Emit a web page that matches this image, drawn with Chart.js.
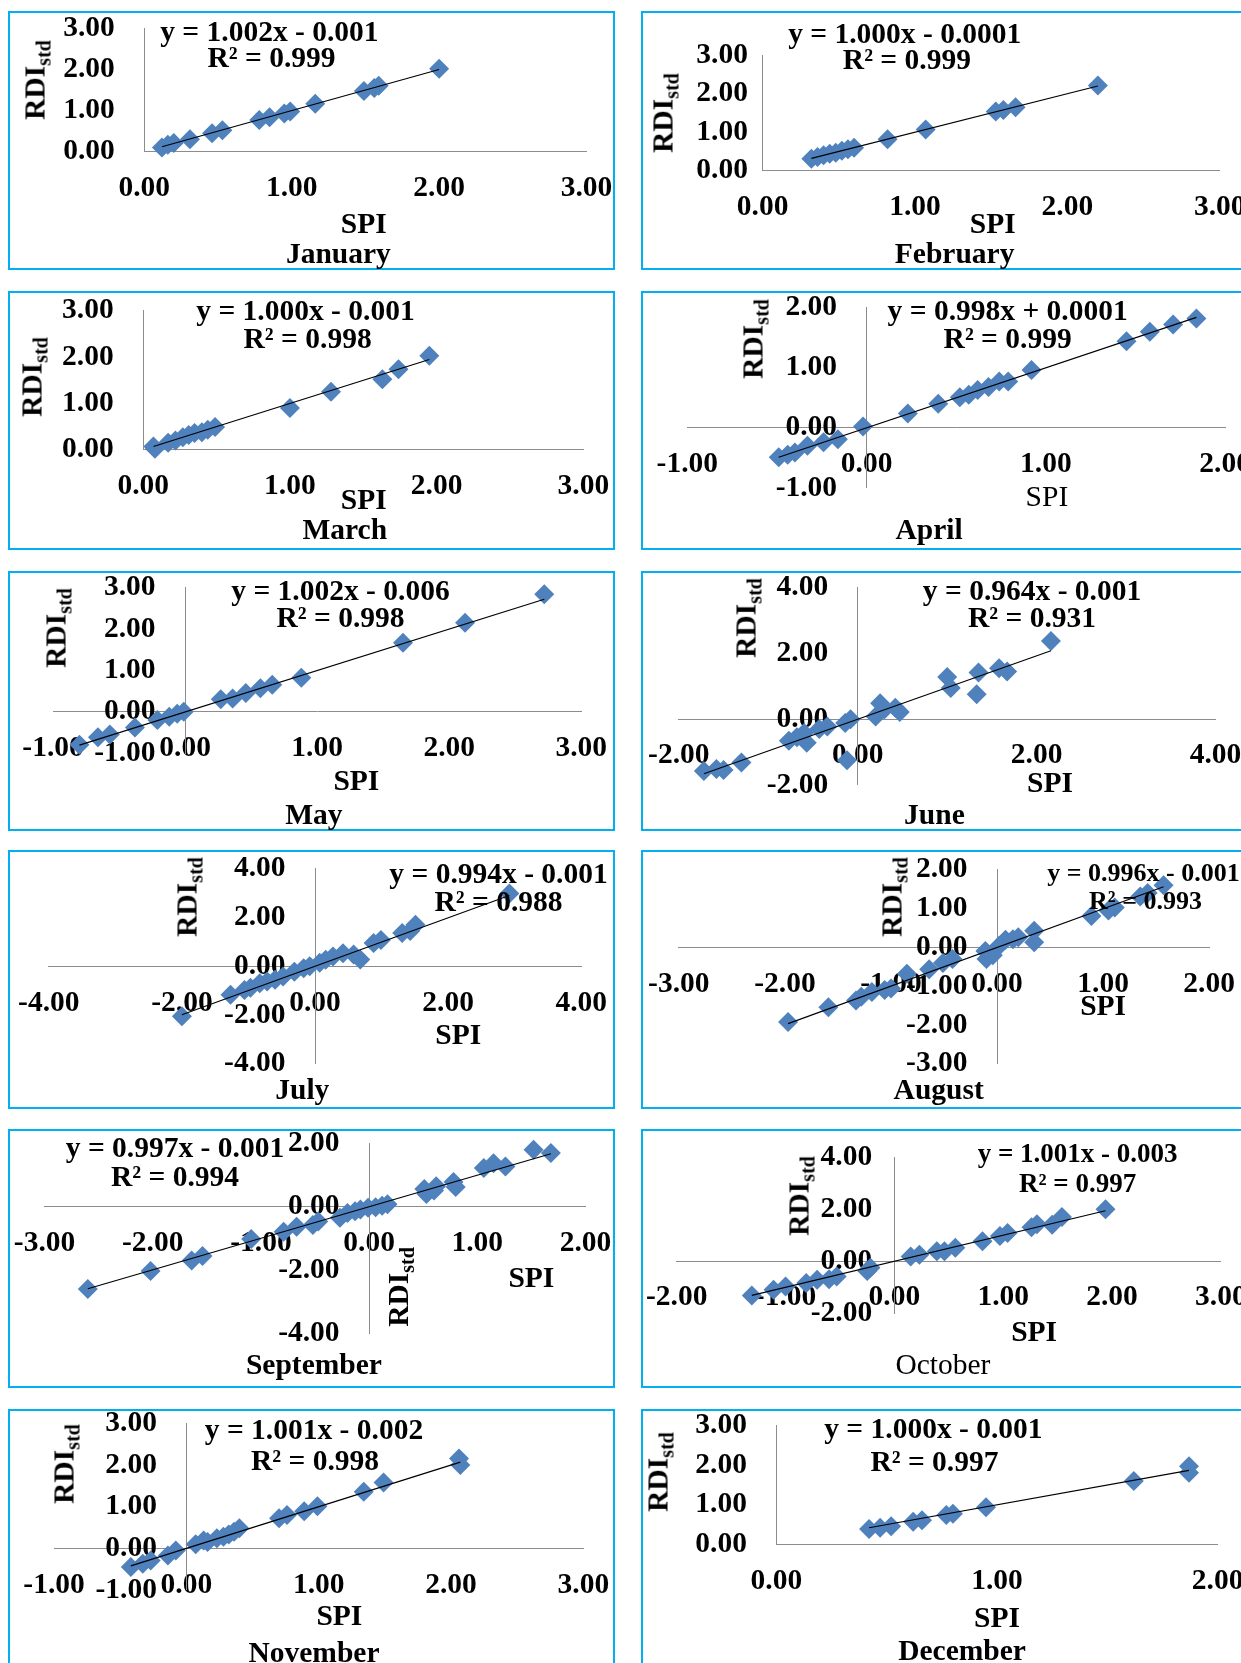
<!DOCTYPE html>
<html>
<head>
<meta charset="utf-8">
<title>RDIstd vs SPI by month</title>
<script src="https://cdn.jsdelivr.net/npm/chart.js@4.4.1/dist/chart.umd.min.js"></script>
<style>
  html, body { margin: 0; padding: 0; background: #fff; }
  body { width: 1241px; height: 1663px; position: relative; overflow: hidden;
         font-family: "Liberation Serif", "Times New Roman", serif; }
  .panel { position: absolute; box-sizing: border-box; border: 2px solid #00b0f0; }
  canvas { position: absolute; }
  .lbl { position: absolute; transform: translate(-50%, -50%); white-space: nowrap;
         font-weight: bold; font-size: 29.5px; line-height: 1; color: #000; }
  .rdi { transform: translate(-50%, -50%) rotate(-90deg); }
  .rdi sub { font-size: 20px; vertical-align: -6px; }
  .reg { font-weight: normal; }
</style>
</head>
<body>
<script>
  // ---- data ----
  const months = ["January", "February", "March", "April", "May", "June",
    "July", "August", "September", "October", "November", "December"];

  const spiJan = [0.12, 0.16, 0.20, 0.31, 0.46, 0.53, 0.78, 0.85, 0.95, 0.99, 1.16, 1.49, 1.56, 1.59, 2.00];
  const rdiJan = [0.10, 0.17, 0.21, 0.30, 0.45, 0.52, 0.77, 0.84, 0.93, 0.98, 1.17, 1.48, 1.55, 1.61, 2.02];
  const spiFeb = [0.32, 0.36, 0.40, 0.44, 0.48, 0.52, 0.56, 0.60, 0.82, 1.07, 1.53, 1.58, 1.66, 2.20];
  const rdiFeb = [0.31, 0.36, 0.40, 0.44, 0.47, 0.52, 0.56, 0.60, 0.82, 1.07, 1.54, 1.58, 1.65, 2.21];
  const spiMar = [0.07, 0.08, 0.17, 0.22, 0.27, 0.31, 0.35, 0.40, 0.44, 0.49, 1.00, 1.28, 1.63, 1.74, 1.95];
  const rdiMar = [0.07, 0.02, 0.15, 0.20, 0.27, 0.32, 0.36, 0.38, 0.43, 0.49, 0.90, 1.25, 1.52, 1.74, 2.03];
  const spiApr = [-0.49, -0.44, -0.40, -0.33, -0.24, -0.16, -0.02, 0.23, 0.40, 0.52, 0.57, 0.62, 0.68, 0.74, 0.79, 0.92, 1.45, 1.58, 1.71, 1.84];
  const rdiApr = [-0.49, -0.45, -0.41, -0.30, -0.24, -0.19, 0.02, 0.24, 0.40, 0.51, 0.55, 0.63, 0.68, 0.77, 0.77, 0.96, 1.44, 1.60, 1.72, 1.82];
  const spiMay = [-0.80, -0.66, -0.57, -0.38, -0.21, -0.12, -0.06, -0.01, 0.27, 0.36, 0.46, 0.57, 0.66, 0.88, 1.65, 2.12, 2.72];
  const rdiMay = [-0.80, -0.62, -0.55, -0.38, -0.20, -0.12, -0.05, 0.00, 0.30, 0.32, 0.45, 0.57, 0.65, 0.82, 1.67, 2.15, 2.84];
  const spiJun = [-1.72, -1.58, -1.50, -1.30, -0.77, -0.68, -0.60, -0.57, -0.43, -0.34, -0.14, -0.08, -0.12, 0.20, 0.25, 0.30, 0.42, 0.47, 1.00, 1.04, 1.33, 1.35, 1.58, 1.67, 2.16];
  const rdiJun = [-1.58, -1.52, -1.55, -1.32, -0.66, -0.55, -0.42, -0.72, -0.30, -0.22, -0.12, 0.00, -1.25, 0.08, 0.48, 0.30, 0.35, 0.22, 1.28, 0.95, 0.76, 1.42, 1.55, 1.45, 2.38];
  const spiJul = [-2.00, -1.27, -1.06, -0.97, -0.83, -0.72, -0.60, -0.48, -0.31, -0.17, -0.08, 0.07, 0.16, 0.27, 0.42, 0.58, 0.68, 0.88, 0.99, 1.31, 1.43, 1.51, 2.92];
  const rdiJul = [-2.05, -1.17, -0.97, -0.88, -0.70, -0.62, -0.55, -0.42, -0.22, -0.08, 0.00, 0.14, 0.27, 0.40, 0.53, 0.48, 0.28, 0.95, 1.08, 1.36, 1.45, 1.70, 2.98];
  const spiAug = [-1.97, -1.59, -1.33, -1.28, -1.18, -1.06, -1.00, -0.85, -0.64, -0.51, -0.42, -0.11, -0.10, -0.04, 0.02, 0.08, 0.15, 0.20, 0.35, 0.35, 0.89, 1.05, 1.11, 1.35, 1.42, 1.57];
  const rdiAug = [-1.92, -1.54, -1.37, -1.27, -1.15, -1.10, -1.06, -0.68, -0.56, -0.40, -0.30, -0.09, -0.30, -0.20, 0.04, 0.20, 0.21, 0.26, 0.43, 0.13, 0.81, 0.95, 1.03, 1.31, 1.40, 1.60];
  const spiSep = [-2.60, -2.02, -1.64, -1.54, -1.09, -0.79, -0.67, -0.52, -0.47, -0.27, -0.20, -0.13, -0.08, -0.01, 0.06, 0.12, 0.17, 0.51, 0.53, 0.60, 0.62, 0.78, 0.80, 1.06, 1.15, 1.26, 1.52, 1.68];
  const rdiSep = [-2.60, -2.03, -1.70, -1.56, -1.02, -0.79, -0.63, -0.58, -0.47, -0.35, -0.20, -0.14, -0.09, -0.03, -0.02, 0.03, 0.08, 0.56, 0.40, 0.51, 0.65, 0.78, 0.62, 1.22, 1.37, 1.27, 1.80, 1.70];
  const spiOct = [-1.31, -1.11, -1.00, -0.81, -0.71, -0.60, -0.53, -0.25, -0.22, 0.15, 0.23, 0.39, 0.46, 0.56, 0.81, 0.97, 1.04, 1.26, 1.31, 1.45, 1.54, 1.94];
  const rdiOct = [-1.32, -1.10, -0.98, -0.84, -0.72, -0.70, -0.59, -0.38, -0.25, 0.18, 0.25, 0.38, 0.38, 0.52, 0.77, 0.97, 1.08, 1.30, 1.42, 1.40, 1.70, 2.00];
  const spiNov = [-0.42, -0.33, -0.27, -0.14, -0.08, 0.07, 0.13, 0.16, 0.23, 0.28, 0.32, 0.36, 0.40, 0.70, 0.76, 0.89, 0.99, 1.34, 1.49, 2.06, 2.07];
  const rdiNov = [-0.45, -0.37, -0.29, -0.17, -0.05, 0.10, 0.19, 0.15, 0.24, 0.28, 0.33, 0.40, 0.48, 0.72, 0.80, 0.89, 1.01, 1.36, 1.58, 2.16, 2.00];
  const spiDec = [0.42, 0.47, 0.52, 0.62, 0.66, 0.77, 0.80, 0.95, 1.62, 1.87, 1.87];
  const rdiDec = [0.39, 0.42, 0.46, 0.57, 0.61, 0.74, 0.77, 0.94, 1.60, 1.97, 1.81];

  const spiData = [spiJan, spiFeb, spiMar, spiApr, spiMay, spiJun, spiJul, spiAug, spiSep, spiOct, spiNov, spiDec];
  const rdiData = [rdiJan, rdiFeb, rdiMar, rdiApr, rdiMay, rdiJun, rdiJul, rdiAug, rdiSep, rdiOct, rdiNov, rdiDec];

  // fitted lines as printed on each panel
  const slope = [1.002, 1.000, 1.000, 0.998, 1.002, 0.964, 0.994, 0.996, 0.997, 1.001, 1.001, 1.000];
  const intercept = [-0.001, -0.0001, -0.001, 0.0001, -0.006, -0.001, -0.001, -0.001, -0.001, -0.003, -0.002, -0.001];
  const rSquared = ["0.999", "0.999", "0.998", "0.999", "0.998", "0.931", "0.988", "0.993", "0.994", "0.997", "0.998", "0.997"];

  // axis ranges: [min, max, step]
  const xAxis = [[0, 3, 1], [0, 3, 1], [0, 3, 1], [-1, 2, 1], [-1, 3, 1], [-2, 4, 2],
    [-4, 4, 2], [-3, 2, 1], [-3, 2, 1], [-2, 3, 1], [-1, 3, 1], [0, 2, 1]];
  const yAxis = [[0, 3, 1], [0, 3, 1], [0, 3, 1], [-1, 2, 1], [-1, 3, 1], [-2, 4, 2],
    [-4, 4, 2], [-3, 2, 1], [-4, 2, 2], [-2, 4, 2], [-1, 3, 1], [0, 3, 1]];

  // ---- layout, measured on a 1170px wide copy of the figure ----
  const K = 1241 / 1170;
  const colX = [8, 604];
  const rowY = [10, 274, 538, 801, 1064, 1328];
  const boxW = 572, boxH = 245;
  const M = 40; // canvas overhang so edge labels never squeeze the plot
  const EN = "\u2002";

  const layout = [
    { plot: [136, 27, 553, 143], eq: [254, 30], r2: [256, 55], spi: [343, 211], title: [319, 239], rdi: [35, 75] },
    { plot: [719, 52, 1150, 161], eq: [853, 32], r2: [855, 57], spi: [936, 211], title: [900, 239], rdi: [627, 107], yGap: EN },
    { plot: [135, 293, 550, 424], eq: [288, 293], r2: [290, 320], spi: [343, 471], title: [325, 500], rdi: [32, 355] },
    { plot: [648, 290, 1155, 460], eq: [950, 293], r2: [950, 320], spi: [987, 469], title: [876, 500], rdi: [712, 320], spiReg: true },
    { plot: [50, 554, 548, 710], eq: [321, 557], r2: [321, 583], spi: [336, 736], title: [296, 768], rdi: [55, 592] },
    { plot: [640, 554, 1146, 740], eq: [973, 557], r2: [973, 583], spi: [990, 738], title: [881, 768], rdi: [705, 583] },
    { plot: [46, 819, 548, 1003], eq: [470, 824], r2: [470, 850], spi: [432, 976], title: [285, 1028], rdi: [178, 846] },
    { plot: [640, 820, 1140, 1003], eq: [1078, 823], r2: [1080, 849], spi: [1040, 948], title: [885, 1028], rdi: [843, 846], eqSize: 26 },
    { plot: [42, 1078, 552, 1257], eq: [165, 1082], r2: [165, 1110], spi: [501, 1205], title: [296, 1287], rdi: [377, 1213] },
    { plot: [638, 1091, 1151, 1238], eq: [1016, 1087], r2: [1016, 1115], spi: [975, 1256], title: [889, 1287], rdi: [755, 1128], titleReg: true, eqSize: 27, yGap: EN + " " },
    { plot: [51, 1342, 550, 1499], eq: [296, 1348], r2: [297, 1377], spi: [320, 1524], title: [296, 1558], rdi: [62, 1380] },
    { plot: [732, 1344, 1148, 1456], eq: [880, 1347], r2: [881, 1378], spi: [940, 1525], title: [907, 1557], rdi: [622, 1388] }
  ];

  const tickFont = { family: "Liberation Serif", size: 29.5, weight: "bold" };

  function addLabel(html, pos, cls, size) {
    const el = document.createElement("div");
    el.className = "lbl" + (cls ? " " + cls : "");
    el.innerHTML = html;
    el.style.left = (pos[0] * K) + "px";
    el.style.top = (pos[1] * K) + "px";
    if (size) {
      el.style.fontSize = size + "px";
    }
    document.body.appendChild(el);
  }

  function eqText(i) {
    const b = intercept[i];
    return "y = " + slope[i].toFixed(3) + "x " + (b < 0 ? "- " : "+ ") + Math.abs(b);
  }

  months.forEach(function (month, i) {
    const L = layout[i];
    const bx = colX[i % 2] * K;
    const by = rowY[Math.floor(i / 2)] * K;
    const bw = boxW * K;
    const bh = boxH * K;

    const box = document.createElement("div");
    box.className = "panel";
    box.style.left = bx + "px";
    box.style.top = by + "px";
    box.style.width = bw + "px";
    box.style.height = bh + "px";
    document.body.appendChild(box);

    const cx = Math.round(bx - M);
    const cy = Math.round(by - M);
    const cw = Math.round(bw + 2 * M);
    const ch = Math.round(bh + 2 * M);
    const canvas = document.createElement("canvas");
    canvas.width = cw;
    canvas.height = ch;
    canvas.style.left = cx + "px";
    canvas.style.top = cy + "px";
    canvas.style.width = cw + "px";
    canvas.style.height = ch + "px";
    document.body.appendChild(canvas);

    const spi = spiData[i];
    const rdi = rdiData[i];
    const points = spi.map(function (x, k) { return { x: x, y: rdi[k] }; });
    const x0 = Math.min.apply(null, spi);
    const x1 = Math.max.apply(null, spi);
    const trend = [
      { x: x0, y: slope[i] * x0 + intercept[i] },
      { x: x1, y: slope[i] * x1 + intercept[i] }
    ];

    const gap = L.yGap || EN + EN;
    const fmtX = function (v) { return Number(v).toFixed(2); };
    // a y axis pinned at x = 0 ignores ticks.padding, so keep the gap with trailing spaces
    const fmtY = function (v) { return Number(v).toFixed(2) + gap; };

    new Chart(canvas, {
      type: "scatter",
      data: {
        datasets: [
          {
            data: trend,
            showLine: true,
            borderColor: "#000000",
            borderWidth: 1.2,
            pointRadius: 0,
            clip: false,
            order: 0
          },
          {
            data: points,
            pointStyle: "rectRot",
            pointRadius: 10,
            backgroundColor: "#4f81bd",
            borderColor: "#4f81bd",
            borderWidth: 0,
            clip: false,
            order: 1
          }
        ]
      },
      options: {
        responsive: false,
        animation: false,
        events: [],
        layout: {
          padding: {
            left: L.plot[0] * K - cx,
            top: L.plot[1] * K - cy,
            right: cx + cw - L.plot[2] * K,
            bottom: cy + ch - L.plot[3] * K
          }
        },
        plugins: {
          legend: { display: false },
          tooltip: { enabled: false }
        },
        scales: {
          x: {
            type: "linear",
            min: xAxis[i][0],
            max: xAxis[i][1],
            position: { y: 0 },
            grid: { display: false, drawTicks: false },
            border: { display: true, color: "#8c8c8c", width: 1 },
            ticks: {
              stepSize: xAxis[i][2],
              autoSkip: false,
              maxRotation: 0,
              padding: 19,
              color: "#000",
              font: tickFont,
              callback: fmtX
            }
          },
          y: {
            type: "linear",
            min: yAxis[i][0],
            max: yAxis[i][1],
            position: { x: 0 },
            grid: { display: false, drawTicks: false },
            border: { display: true, color: "#8c8c8c", width: 1 },
            ticks: {
              stepSize: yAxis[i][2],
              autoSkip: false,
              padding: 0,
              color: "#000",
              font: tickFont,
              callback: fmtY
            }
          }
        }
      }
    });

    addLabel(eqText(i), L.eq, "", L.eqSize);
    addLabel("R\u00b2 = " + rSquared[i], L.r2, "", L.eqSize);
    addLabel("SPI", L.spi, L.spiReg ? "reg" : "");
    addLabel(month, L.title, L.titleReg ? "reg" : "");
    addLabel("RDI<sub>std</sub>", L.rdi, "rdi");
  });
</script>
</body>
</html>
